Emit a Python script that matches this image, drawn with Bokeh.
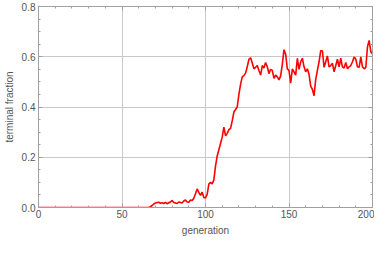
from bokeh.plotting import figure
from bokeh.models import LinearAxis, FixedTicker, Range1d, PrintfTickFormatter
from bokeh.embed import file_html
from bokeh.resources import INLINE

generation = list(range(0, 201))
zeros = [0.0] * 67
fraction_rest = [
    0.003, 0.008, 0.014, 0.018, 0.020, 0.021, 0.017, 0.019, 0.016, 0.020,   # 67-76
    0.015, 0.019, 0.022, 0.028, 0.020, 0.018, 0.016, 0.022, 0.020, 0.018,   # 77-86
    0.026, 0.030, 0.022, 0.021, 0.030, 0.028, 0.037, 0.055, 0.074, 0.060,   # 87-96
    0.048, 0.061, 0.040, 0.038, 0.052, 0.093, 0.100, 0.094, 0.110, 0.165,   # 97-106
    0.205, 0.230, 0.255, 0.280, 0.320, 0.285, 0.295, 0.310, 0.315, 0.345,   # 107-116
    0.380, 0.390, 0.400, 0.450, 0.490, 0.520, 0.525, 0.535, 0.560, 0.590,   # 117-126
    0.596, 0.575, 0.552, 0.558, 0.565, 0.545, 0.527, 0.565, 0.555, 0.577,   # 127-136
    0.560, 0.533, 0.550, 0.546, 0.514, 0.527, 0.520, 0.508, 0.524, 0.570,   # 137-146
    0.628, 0.610, 0.552, 0.546, 0.495, 0.552, 0.540, 0.527, 0.594, 0.550,   # 147-156
    0.580, 0.594, 0.560, 0.540, 0.552, 0.530, 0.483, 0.470, 0.445, 0.510,   # 157-166
    0.546, 0.580, 0.624, 0.624, 0.558, 0.580, 0.603, 0.560, 0.565, 0.574,   # 167-176
    0.540, 0.565, 0.590, 0.560, 0.594, 0.560, 0.555, 0.577, 0.552, 0.560,   # 177-186
    0.565, 0.580, 0.599, 0.590, 0.560, 0.558, 0.599, 0.560, 0.552, 0.558,   # 187-196
    0.640, 0.665, 0.620, 0.611,                                             # 197-200
]
fraction = zeros + fraction_rest

x_major = [0, 50, 100, 150, 200]
x_minor = [g for g in range(0, 201, 10)]
y_major = [0.0, 0.2, 0.4, 0.6, 0.8]
y_minor = [0.05 * i for i in range(0, 17)]

p = figure(width=374, height=238, output_backend="svg", toolbar_location=None,
           x_range=Range1d(0, 200), y_range=Range1d(0, 0.8),
           min_border_left=30, min_border_right=2, min_border_top=6, min_border_bottom=26)

p.line(generation, fraction, line_color="#ff0000", line_width=1.6)

font = "Liberation Sans"
grey_text = "#555555"
frame_col = "#a0a0a0"

p.outline_line_color = frame_col
p.outline_line_width = 1
p.background_fill_color = "white"
p.border_fill_color = "white"

def style_axis(ax, ticks, minors, labels=True):
    ax.ticker = FixedTicker(ticks=ticks, minor_ticks=minors)
    ax.axis_line_color = frame_col
    ax.major_tick_line_color = frame_col
    ax.minor_tick_line_color = frame_col
    ax.major_tick_in = 4
    ax.major_tick_out = 0
    ax.minor_tick_in = 2
    ax.minor_tick_out = 0
    ax.major_label_text_font = font
    ax.major_label_text_font_size = "10px"
    ax.major_label_text_color = grey_text
    ax.major_label_standoff = 2 if labels else 0
    ax.axis_label_text_font = font
    ax.axis_label_text_font_size = "10px"
    ax.axis_label_text_font_style = "normal"
    ax.axis_label_text_color = grey_text
    ax.axis_label_standoff = 4
    if not labels:
        ax.major_label_overrides = {t: "" for t in ticks}

style_axis(p.xaxis[0], x_major, x_minor)
style_axis(p.yaxis[0], y_major, y_minor)
p.yaxis[0].major_label_standoff = 3
p.xaxis[0].axis_label = "generation"
p.yaxis[0].axis_label = "terminal fraction"
p.yaxis[0].formatter = PrintfTickFormatter(format="%.1f")

top = LinearAxis()
style_axis(top, x_major, x_minor, labels=False)
p.add_layout(top, "above")
right = LinearAxis()
style_axis(right, y_major, y_minor, labels=False)
p.add_layout(right, "right")

p.xgrid.ticker = FixedTicker(ticks=[50, 100, 150])
p.ygrid.ticker = FixedTicker(ticks=[0.2, 0.4, 0.6])
p.xgrid.grid_line_color = "#c8c8c8"
p.ygrid.grid_line_color = "#c8c8c8"
p.xgrid.grid_line_width = 1
p.ygrid.grid_line_width = 1

open("out.html", "w").write(file_html(p, INLINE))
